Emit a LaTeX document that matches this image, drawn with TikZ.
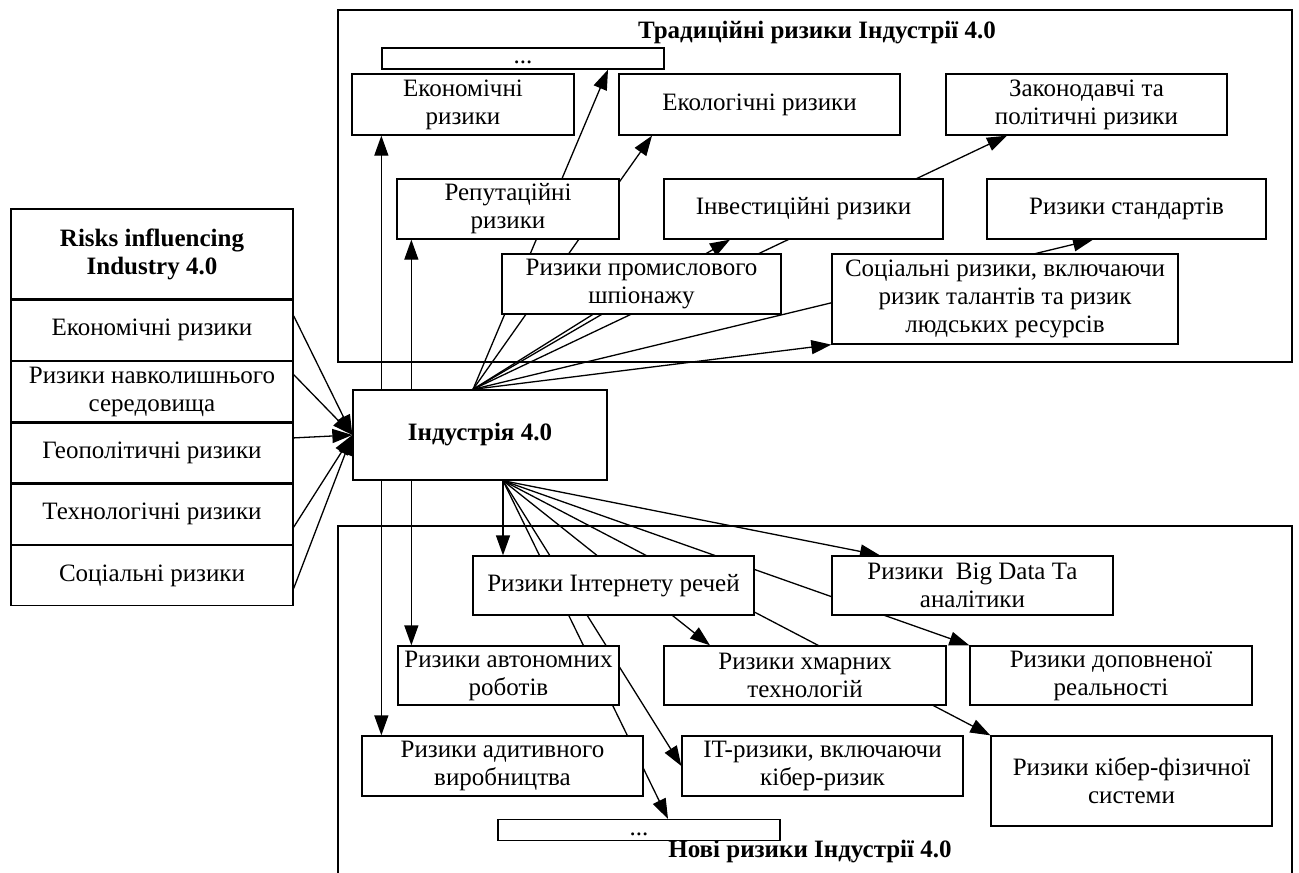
\documentclass[tikz,border=0pt]{standalone}
\usepackage{fontspec}
\setmainfont{Liberation Serif}
\usetikzlibrary{arrows.meta, positioning, backgrounds}

\begin{document}
\begin{tikzpicture}[
    x=1pt, y=-1pt,
    txt/.style={font=\fontsize{25}{28}\selectfont},
    box/.style={draw, fill=white, align=center, inner sep=1pt, line width=1.3pt, txt},
    rowbox/.style={box, minimum width=282, minimum height=60},
    dotsbox/.style={box, minimum width=282, minimum height=21, inner sep=0pt,
        text height=10pt, text depth=0pt},
    ttl/.style={font=\fontsize{25}{28}\selectfont\bfseries},
    ln/.style={line width=1.3pt},
    arr/.style={-{Triangle[length=20pt, width=14pt]}, line width=1.3pt},
]
    \useasboundingbox (0,0) rectangle (1299,873);

    % frames
    \draw[ln] (338,10) rectangle (1292,362);
    \draw[ln] (338,880) |- (1292,526) -- (1292,880);
    \node[ttl] (toptitle) at (817,33) {Традиційні ризики Індустрії 4.0};
    \node[ttl] (bottitle) at (810,852) {Нові ризики Індустрії 4.0};

    % left column
    \node[box, minimum width=282, minimum height=90, font=\fontsize{25}{28}\selectfont\bfseries]
        (head) at (152,254) {Risks influencing\\Industry 4.0};
    \node[rowbox, below=0pt of head] (r1) {Економічні ризики};
    \node[rowbox, below=0pt of r1] (r2) {Ризики навколишнього\\середовища};
    \node[rowbox, below=0pt of r2] (r3) {Геополітичні ризики};
    \node[rowbox, below=0pt of r3] (r4) {Технологічні ризики};
    \node[rowbox, below=0pt of r4] (r5) {Соціальні ризики};

    % centre
    \node[box, minimum width=254, minimum height=90, font=\fontsize{25}{28}\selectfont\bfseries]
        (ind) at (480,435) {Індустрія 4.0};

    % traditional risks
    \node[dotsbox] (dotstop) at (523,58.5) {...};
    \node[box, minimum width=222, minimum height=61] (econ) at (463,104.5) {Економічні\\ризики};
    \node[box, minimum width=281, minimum height=61] (ecol) at (759.5,104.5) {Екологічні ризики};
    \node[box, minimum width=281, minimum height=61] (law) at (1086.5,104.5) {Законодавчі та\\політичні ризики};
    \node[box, minimum width=222, minimum height=60] (rep) at (508,209) {Репутаційні\\ризики};
    \node[box, minimum width=279, minimum height=60] (inv) at (803.5,209) {Інвестиційні ризики};
    \node[box, minimum width=279, minimum height=60] (std) at (1126.5,209) {Ризики стандартів};
    \node[box, minimum width=279, minimum height=60] (spy) at (641.5,284) {Ризики промислового\\шпіонажу};
    \node[box, minimum width=346, minimum height=90] (soc) at (1005,299)
        {Соціальні ризики, включаючи\\ризик талантів та ризик\\людських ресурсів};

    % new risks
    \node[box, minimum width=281, minimum height=59] (iot) at (613.5,585.5) {Ризики Інтернету речей};
    \node[box, minimum width=281, minimum height=59] (bigd) at (972.5,585.5) {Ризики~ Big Data Та\\аналітики};
    \node[box, minimum width=221, minimum height=59] (auto) at (508.5,675.5) {Ризики автономних\\роботів};
    \node[box, minimum width=282, minimum height=59] (cloud) at (805,675.5) {Ризики хмарних\\технологій};
    \node[box, minimum width=282, minimum height=59] (ar) at (1111,675.5) {Ризики доповненої\\реальності};
    \node[box, minimum width=281, minimum height=60] (addm) at (502.5,766) {Ризики адитивного\\виробництва};
    \node[box, minimum width=281, minimum height=60] (itr) at (822.5,766) {IT-ризики, включаючи\\кібер-ризик};
    \node[box, minimum width=281, minimum height=90] (cps) at (1131.5,781) {Ризики кібер-фізичної\\системи};
    \node[dotsbox] (dotsbot) at (639,830) {...};

    \coordinate (ftop) at ([xshift=-7]ind.north);
    \coordinate (fbot) at ([xshift=23]ind.south);
    \coordinate (upA) at ([xshift=29]ind.north west);
    \coordinate (upB) at ([xshift=59]ind.north west);
    \coordinate (dnA) at ([xshift=29]ind.south west);
    \coordinate (dnB) at ([xshift=59]ind.south west);

    \begin{scope}[on background layer]
        % inputs
        \draw[arr] ([yshift=14.5]r1.east) -- (ind.west);
        \draw[arr] ([yshift=17]r2.east) -- (ind.west);
        \draw[arr] ([yshift=15]r3.east) -- (ind.west);
        \draw[arr] ([yshift=-13]r4.east) -- (ind.west);
        \draw[arr] ([yshift=-13]r5.east) -- (ind.west);

        % upward fan
        \draw[arr] (upA) -- (upA |- econ.south);
        \draw[arr] (upB) -- (upB |- rep.south);
        \draw[arr] (ftop) -- ([xshift=85]dotstop.south);
        \draw[arr] (ftop) -- ([xshift=-107.5]ecol.south);
        \draw[arr] (ftop) -- ([xshift=-79.5]law.south);
        \draw[arr] (ftop) -- ([xshift=-73.5]inv.south);
        \draw[arr] (ftop) -- ([xshift=-33.5]std.south);
        \draw[ln] (ftop) -- (spy.center);
        \draw[arr] (ftop) -- (soc.south west);

        % downward fan
        \draw[arr] (dnA) -- (dnA |- addm.north);
        \draw[arr] (dnB) -- (dnB |- auto.north);
        \draw[arr] (fbot) -- (fbot |- iot.north);
        \draw[arr] (fbot) -- ([xshift=-92.5]bigd.north);
        \draw[arr] (fbot) -- (ar.north west);
        \draw[arr] (fbot) -- (cps.north west);
        \draw[arr] (fbot) -- ([xshift=-95]cloud.north);
        \draw[arr] (fbot) -- (itr.west);
        \draw[arr] (fbot) -- ([xshift=29]dotsbot.north);
    \end{scope}
\end{tikzpicture}
\end{document}
